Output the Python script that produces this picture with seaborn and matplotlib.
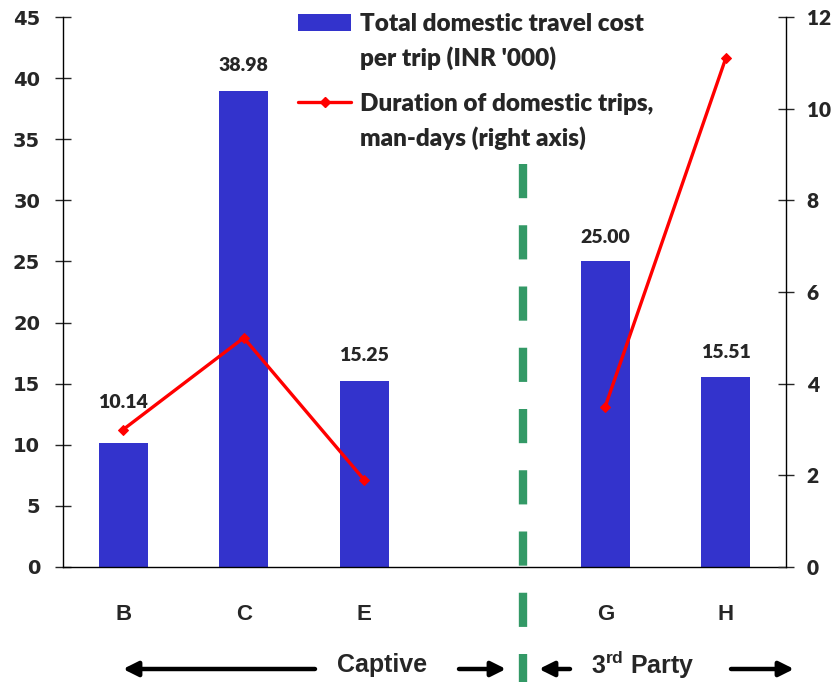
import numpy as np
import pandas as pd
import matplotlib
matplotlib.use("Agg")
import matplotlib.pyplot as plt
import seaborn as sns
from matplotlib.patches import Patch, FancyArrowPatch
from matplotlib.lines import Line2D

# data
categories = ["B", "C", "E", "", "G", "H"]
cost_cats = ["B", "C", "E", "G", "H"]
cost_per_trip = [10.14, 38.98, 15.25, 25.00, 15.51]
duration_days = [3.0, 5.0, 1.9, 3.5, 11.1]
segment = ["Captive", "Captive", "Captive", "3rd Party", "3rd Party"]

BAR_C = "#3333CC"
LINE_C = "#FF0000"
GREEN = "#339966"

sns.set_style("white")
plt.rcParams["font.weight"] = "bold"
plt.rcParams["mathtext.fontset"] = "custom"
plt.rcParams["mathtext.bf"] = "Liberation Sans:bold"
plt.rcParams["mathtext.rm"] = "Liberation Sans:bold"

df = pd.DataFrame({"cat": cost_cats, "cost": cost_per_trip,
                   "days": duration_days, "seg": segment})
df["pos"] = [categories.index(c) for c in cost_cats]

fig = plt.figure(figsize=(8.35, 6.82), dpi=100)
ax = fig.add_axes([63 / 835, 1 - 567 / 682, (786 - 63) / 835, (567 - 17) / 682])

sns.barplot(data=df, x="cat", y="cost", order=categories, color=BAR_C,
            width=0.41, saturation=1, ax=ax, linewidth=0)

# value labels above bars
pads = [23, 12, 12, 11, 12]
for p, pad in zip(ax.patches, pads):
    h = p.get_height()
    ax.annotate(f"{h:.2f}", (p.get_x() + p.get_width() / 2, h),
                xytext=(0, pad), textcoords="offset points",
                ha="center", va="bottom", fontsize=14, fontweight="heavy",
                family="Lato")

ax.set_xlim(-0.5, len(categories) - 0.5)
ax.set_ylim(0, 45)
ax.set_yticks(np.arange(0, 46, 5))
ax.set_xticks(np.arange(-0.5, len(categories), 1))
ax.set_xticklabels([])
ax.set_xticks(np.arange(len(categories)), minor=True)
ax.set_xticklabels(categories, minor=True, fontsize=16, fontweight="bold",
                   family="Liberation Sans")
ax.tick_params(axis="x", which="major", direction="inout", length=11, width=1)
ax.tick_params(axis="x", which="minor", length=0, pad=27)
ax.tick_params(axis="y", direction="inout", length=11, width=1, pad=11,
               labelsize=14, labelfontfamily="DejaVu Sans")
for lab in ax.get_yticklabels():
    lab.set_fontweight("bold")
ax.set_xlabel("")
ax.set_ylabel("")
for s in ["left", "bottom"]:
    ax.spines[s].set_color("black")
    ax.spines[s].set_linewidth(1)
ax.spines["top"].set_visible(False)
ax.spines["right"].set_visible(False)

ax2 = ax.twinx()
sns.lineplot(data=df, x="pos", y="days", units="seg", estimator=None,
             color=LINE_C, lw=2.4, marker="D", markersize=5,
             markeredgecolor=LINE_C, ax=ax2, legend=False)
ax2.set_ylim(0, 12)
ax2.set_yticks(np.arange(0, 13, 2))
ax2.tick_params(axis="y", direction="inout", length=11, width=1, pad=9.5,
                labelsize=15, labelfontfamily="Lato")
for lab in ax2.get_yticklabels():
    lab.set_fontweight("heavy")
ax2.set_ylabel("")
ax2.set_xlabel("")
for s in ["top", "left", "bottom"]:
    ax2.spines[s].set_visible(False)
ax2.spines["right"].set_color("black")
ax2.spines["right"].set_linewidth(1)
ax.set_xlim(-0.5, len(categories) - 0.5)

# dashed divider between captive and 3rd party
div = Line2D([3.32, 3.32], [0.733, -0.22], transform=ax.get_xaxis_transform(),
             color=GREEN, lw=6, linestyle=(0, (4.1, 3.25)),
             dash_capstyle="butt", clip_on=False, zorder=5)
ax.add_line(div)

# legend, one box per series so the handle sits on the first text line
blank = Patch(facecolor="none", edgecolor="none")
leg_kw = dict(loc="upper left", frameon=False,
              prop={"family": "Lato", "weight": "heavy", "size": 17.5},
              handlelength=2.2, handleheight=0.7, handletextpad=0.35,
              labelspacing=0.45, borderpad=0, borderaxespad=0)
fig.legend([Patch(facecolor=BAR_C, edgecolor="none"), blank],
           ["Total domestic travel cost", "per trip (INR '000)"],
           bbox_to_anchor=(298 / 835, 1 - 13 / 682), **leg_kw)
fig.legend([Line2D([], [], color=LINE_C, lw=2.4, marker="D", markersize=5), blank],
           ["Duration of domestic trips,", "man-days (right axis)"],
           bbox_to_anchor=(298 / 835, 1 - 93 / 682), **leg_kw)

# bottom annotations
fy = 1 - 665 / 682
ay = 1 - 669 / 682
fig.text(382 / 835, fy, "Captive", ha="center", va="center", fontsize=18,
         fontweight="bold", family="Liberation Sans")
fig.text(643 / 835, fy, r"3$^{\mathbf{rd}}$ Party", ha="center", va="center",
         fontsize=18, fontweight="bold", family="Liberation Sans")
arrows = [(315, 123), (459, 506), (570, 539), (731, 794)]
for tail, head in arrows:
    fig.add_artist(FancyArrowPatch(
        (tail / 835, ay), (head / 835, ay), transform=fig.transFigure,
        arrowstyle="-|>", mutation_scale=22, lw=3.2, color="black",
        shrinkA=0, shrinkB=0))

fig.savefig("out.png", dpi=100)
